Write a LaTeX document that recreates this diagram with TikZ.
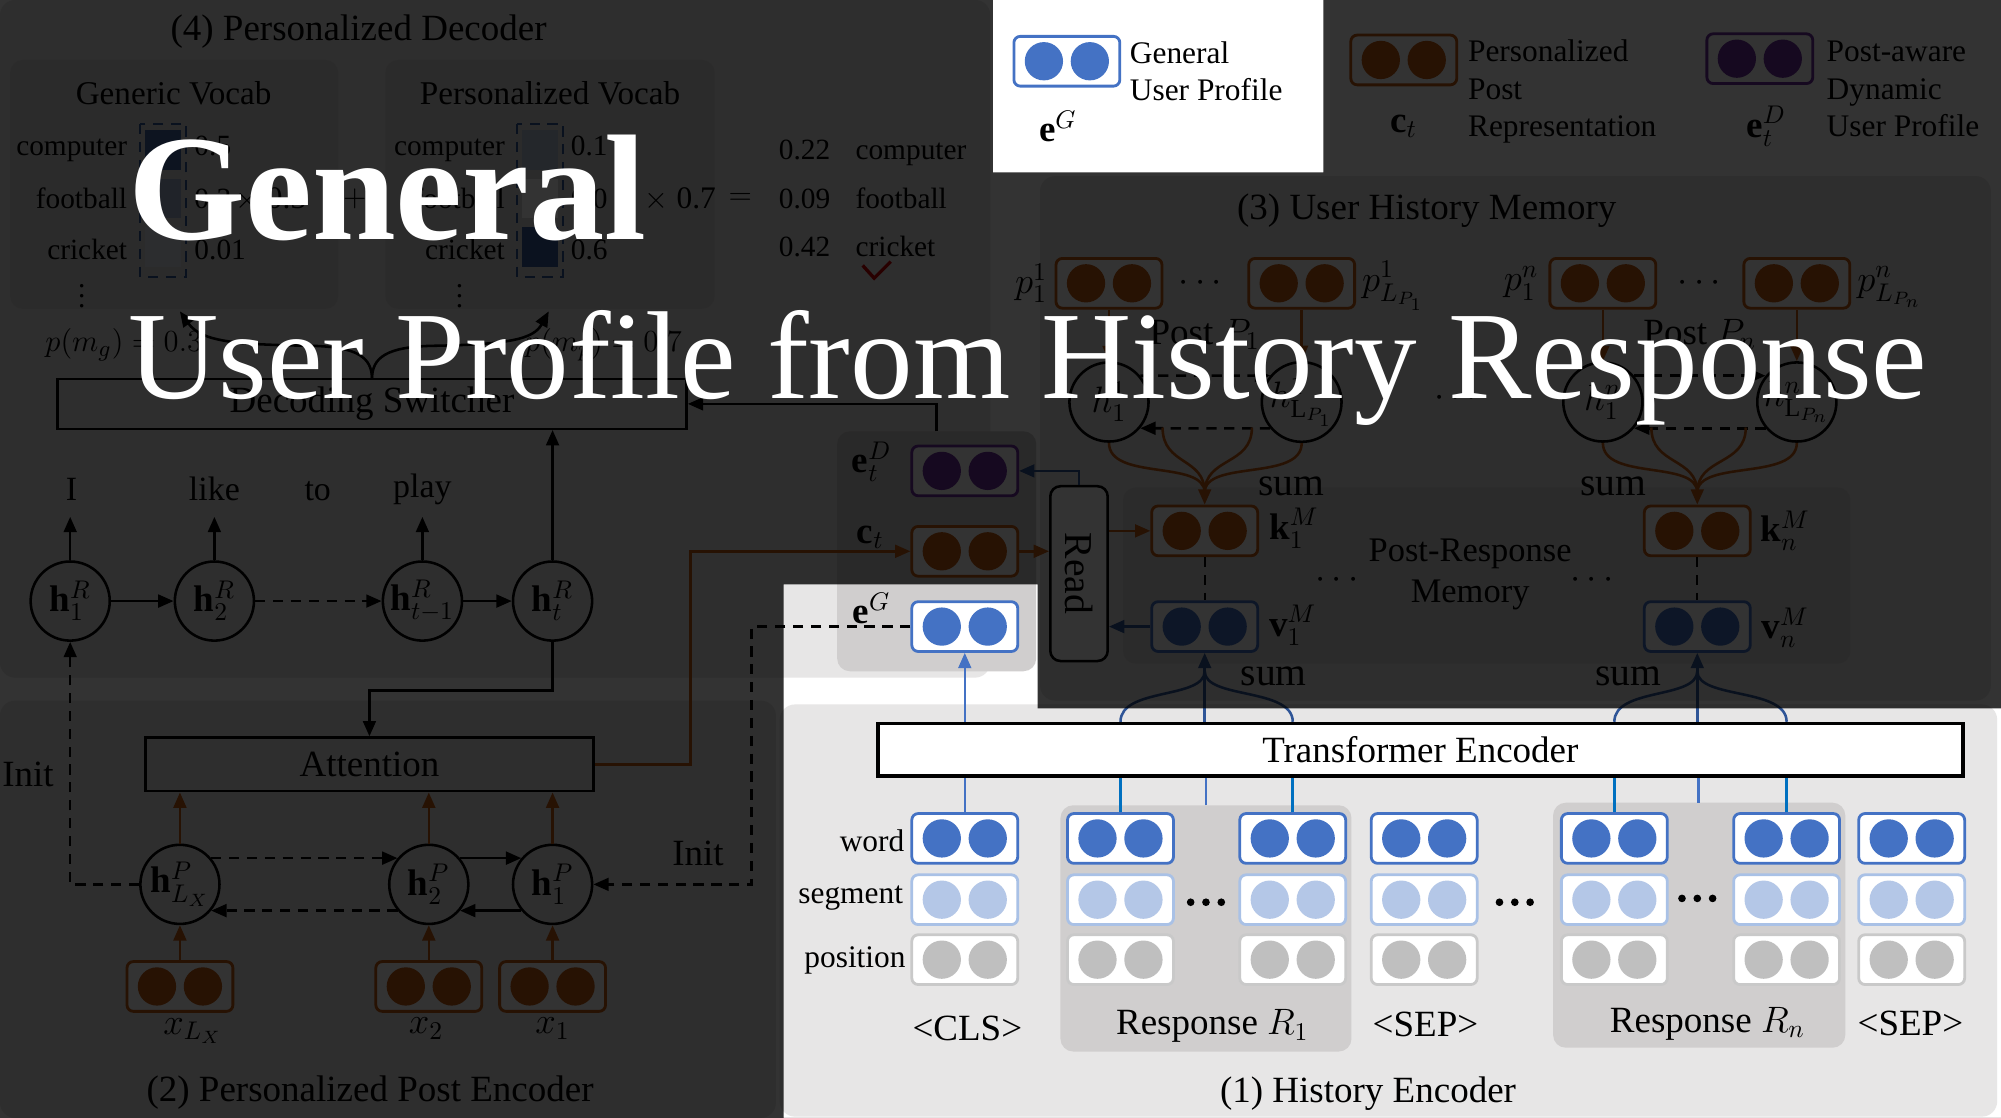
\documentclass[tikz,border=0pt]{standalone}
\usepackage{amsmath}
\usepackage{fontspec}
\setmainfont{Liberation Serif}
\usetikzlibrary{arrows.meta}
\definecolor{cblue}{HTML}{4472C4}
\definecolor{cbluex}{HTML}{0070C0}
\definecolor{cnavy}{HTML}{2F5597}
\definecolor{clblue}{HTML}{B4C7E7}
\definecolor{clbluebd}{HTML}{A9C1E6}
\definecolor{cgray}{HTML}{BFBFBF}
\definecolor{cgraybd}{HTML}{C9C9C9}
\definecolor{cbrown}{HTML}{C55A11}
\definecolor{cpurple}{HTML}{7030A0}
\definecolor{bgA}{HTML}{E7E6E6}
\definecolor{bgB}{HTML}{D0CECE}
\definecolor{bgC}{HTML}{D9D9D9}
\newcommand\szA{\fontsize{14.5}{17}\selectfont}
\newcommand\szB{\fontsize{11.5}{13}\selectfont}
\newcommand\szC{\fontsize{12.3}{15}\selectfont}
\newcommand\szD{\fontsize{13}{15}\selectfont}
\newcommand\szE{\fontsize{15.5}{18}\selectfont}
\newcommand\szF{\fontsize{13.3}{16}\selectfont}
\newcommand\szG{\fontsize{13.5}{16}\selectfont}
\newcommand\embx[5]{%
  \node[emb,draw=#4] (#1) at (#2,#3) {};
  \fill[#5] ([xshift=-9pt]#1.center) circle[radius=15];
  \fill[#5] ([xshift=9pt]#1.center) circle[radius=15];}
\begin{document}
\begin{tikzpicture}[x=0.5pt,y=-0.5pt,
  txt/.style={inner sep=0pt},
  ln/.style={line width=1pt},
  arr/.style={line width=1pt,-{Triangle[length=6pt,width=5pt]}},
  barr/.style={line width=1pt,draw=cbrown,-{Triangle[length=6pt,width=5pt]}},
  narr/.style={line width=1pt,draw=cnavy,-{Triangle[length=6pt,width=5pt]}},
  dsh/.style={dash pattern=on 4pt off 3pt},
  emb/.style={rounded corners=2.5pt,fill=white,minimum width=41.5pt,minimum height=19.5pt,inner sep=0pt,line width=1.1pt},
  rnn/.style={circle,draw,line width=1pt,minimum size=31pt,inner sep=0pt,font=\szA},
  boxn/.style={draw,line width=1pt,inner sep=0pt},
]
\useasboundingbox (0,0) rectangle (1568,876);
\fill[white] (0,0) rectangle (1568,876);
% ---------- backgrounds
\fill[bgA,rounded corners=6pt] (0,0) rectangle (776,531);
\fill[bgA,rounded corners=6pt] (0,549) rectangle (608,876);
\fill[bgA,rounded corners=6pt] (611,552) rectangle (1565,875);
\fill[bgA,rounded corners=6pt] (815,138) rectangle (1560,549);
\fill[bgC,rounded corners=5pt] (8,47) rectangle (265,242);
\fill[bgC,rounded corners=5pt] (302,47) rectangle (560,242);
\fill[bgB,rounded corners=5pt] (656,338) rectangle (812,526);
\fill[bgC,rounded corners=5pt] (880,382) rectangle (1450,520);
\fill[bgB,rounded corners=5pt] (831,631) rectangle (1059,824);
\fill[bgB,rounded corners=5pt] (1217,629) rectangle (1446,821);

% ---------- legend
\embx{lgG}{836}{48}{cblue}{cblue}
\node[txt,font=\szC,anchor=base west] at (885,50) {General};
\node[txt,font=\szC,anchor=base west] at (885,79) {User Profile};
\node[txt,font=\szA] at (829,99) {$\mathbf{e}^{G}$};
\embx{lgC}{1100}{47}{cbrown}{cbrown}
\node[txt,font=\szC,anchor=base west] at (1150,48) {Personalized};
\node[txt,font=\szC,anchor=base west] at (1150,78) {Post};
\node[txt,font=\szC,anchor=base west] at (1150,107) {Representation};
\node[txt,font=\szA] at (1100,99) {$\mathbf{c}_t$};
\embx{lgD}{1379}{46}{cpurple}{cpurple}
\node[txt,font=\szC,anchor=base west] at (1431,48) {Post-aware};
\node[txt,font=\szC,anchor=base west] at (1431,78) {Dynamic};
\node[txt,font=\szC,anchor=base west] at (1431,107) {User Profile};
\node[txt,font=\szA] at (1384,99) {$\mathbf{e}^{D}_t$};

% ---------- (4) decoder
\node[txt,font=\szA] (t4) at (281,25) {(4) Personalized Decoder};
\node[txt,font=\szD] at (136,73) {Generic Vocab};
\node[txt,font=\szD] at (431,73) {Personalized Vocab};
\foreach \w/\y in {computer/115,football/156,cricket/196} {
  \node[txt,font=\szB,anchor=base east] at (100,\y+7) {\w};
  \node[txt,font=\szB,anchor=base east] at (396,\y+7) {\w};
}
\node[txt,font=\szB] at (64,226) {$\vdots$};
\node[txt,font=\szB] at (360,226) {$\vdots$};
\draw[cnavy,line width=0.8pt,dsh] (110,97) rectangle (146,217);
\fill[cnavy!90!white] (114,102) rectangle (142,133);
\fill[cnavy!45!white] (114,140) rectangle (142,171);
\fill[cnavy!15!white] (114,178) rectangle (142,209);
\draw[cnavy,line width=0.8pt,dsh] (405,97) rectangle (441,217);
\fill[cnavy!35!white] (409,102) rectangle (437,133);
\fill[white] (409,140) rectangle (437,171);
\fill[cnavy!95!white] (409,178) rectangle (437,209);
\foreach \v/\y in {0.5/115,0.3/156,0.01/196}
  \node[txt,font=\szB,anchor=base west] at (152,\y+7) {\v};
\foreach \v/\y in {0.1/115,0.0/156,0.6/196}
  \node[txt,font=\szB,anchor=base west] at (447,\y+7) {\v};
\node[txt,font=\szC,anchor=base west] at (184,163) {$\times$ 0.3};
\node[txt,font=\szC] at (278,156) {$+$};
\node[txt,font=\szC,anchor=base west] at (505,163) {$\times$ 0.7};
\node[txt,font=\szC] at (580,156) {$=$};
\foreach \v/\w/\y in {0.22/computer/118,0.09/football/156,0.42/cricket/194} {
  \node[txt,font=\szB,anchor=base west] at (610,\y+7) {\v};
  \node[txt,font=\szB,anchor=base west] at (670,\y+7) {\w};
}
\draw[red!80!black,line width=1.3pt] (676,208) -- (685,218) -- (698,205);
\node[txt,font=\szC] at (97,270) {$p(m_g) = 0.3$};
\node[txt,font=\szC] at (473,270) {$p(m_p) = 0.7$};
\node[boxn,minimum width=246.5pt,minimum height=19.5pt,font=\szA] (sw) at (291.5,316.5) {Decoding Switcher};
\coordinate (cusp) at (291.5,297);
\draw[arr] (cusp) .. controls (291.5,280) and (280,272) .. (245,271) .. controls (185,270) and (158,268) .. (141,244);
\draw[arr] (cusp) .. controls (291.5,280) and (303,272) .. (338,271) .. controls (398,270) and (418,266) .. (430,244);
\coordinate (egtop) at (734,338);
\draw[arr] (egtop) |- (sw.east);

% decoder RNN
\node[rnn] (hR1) at (55,471) {$\mathbf{h}^{R}_{1}$};
\node[rnn] (hR2) at (168,471) {$\mathbf{h}^{R}_{2}$};
\node[rnn] (hRa) at (331,471) {$\mathbf{h}^{R}_{t-1}$};
\node[rnn] (hRt) at (433,471) {$\mathbf{h}^{R}_{t}$};
\node[txt,font=\szF,anchor=base] (wI) at (56,392) {I};
\node[txt,font=\szF,anchor=base] (wlike) at (168,392) {like};
\node[txt,font=\szF,anchor=base] (wto) at (249,392) {to};
\node[txt,font=\szF,anchor=base] (wplay) at (331,390) {play};
\draw[arr] (hR1.north) -- ++(0,-34);
\draw[arr] (hR2.north) -- ++(0,-34);
\draw[arr] (hRa.north) -- ++(0,-34);
\draw[arr] (hR1) -- (hR2);
\draw[arr,dsh] (hR2) -- (hRa);
\draw[arr] (hRa) -- (hRt);
\draw[arr] (hRt.north) -- (hRt.north |- sw.south);
\node[boxn,minimum width=175.5pt,minimum height=21pt,font=\szA] (att) at (289.5,599) {Attention};
\draw[arr] (hRt.south) -- ++(0,38) -| (att.north);

% ---------- (2) post encoder
\node[rnn] (hPL) at (141,693) {$\mathbf{h}^{P}_{L_X}$};
\node[rnn] (hP2) at (336,693) {$\mathbf{h}^{P}_{2}$};
\node[rnn] (hP1) at (433,693) {$\mathbf{h}^{P}_{1}$};
\draw[arr,dsh] (hPL.40) -- (hP2.140);
\draw[arr] (hP2.40) -- (hP1.140);
\draw[arr] (hP1.220) -- (hP2.320);
\draw[arr,dsh] (hP2.220) -- (hPL.320);
\foreach \n in {hPL,hP2,hP1} \draw[barr] (\n.north) -- (\n.north |- att.south);
\embx{xL}{141}{773}{cbrown}{cbrown}
\embx{x2}{336}{773}{cbrown}{cbrown}
\embx{x1}{433}{773}{cbrown}{cbrown}
\draw[barr] (xL.north) -- (hPL.south);
\draw[barr] (x2.north) -- (hP2.south);
\draw[barr] (x1.north) -- (hP1.south);
\node[txt,font=\szA] at (151,808) {$x_{L_X}$};
\node[txt,font=\szA] at (334,806) {$x_2$};
\node[txt,font=\szA] at (433,806) {$x_1$};
\node[txt,font=\szA] at (290,856) {(2) Personalized Post Encoder};
\draw[arr,dsh] (hPL.west) -- (hR1.south |- hPL.west) -- (hR1.south);
\node[txt,font=\szA] at (22,607) {Init};

% ---------- middle group
\embx{eD}{756}{369}{cpurple}{cpurple}
\embx{ct}{756}{432}{cbrown}{cbrown}
\embx{eG}{756}{491}{cblue}{cblue}
\node[txt,font=\szA] at (683,362) {$\mathbf{e}^{D}_{t}$};
\node[txt,font=\szA] at (682,421) {$\mathbf{c}_{t}$};
\node[txt,font=\szA] at (683,477) {$\mathbf{e}^{G}$};
\draw[barr] (att.east) -- ++(75,0) |- (ct.west);
\draw[arr,dsh] (eG.west) -- ++(-124.5,0) |- (hP1.east);
\node[txt,font=\szA] at (547,669) {Init};
\node[boxn,rounded corners=4pt,fill=white,minimum width=22.5pt,minimum height=68.5pt] (rd) at (845.5,449.5) {};
\node[txt,font=\szE,rotate=-90] at (rd.center) {Read};
\draw[barr] (ct.east) -- (ct.east -| rd.west);
\draw[narr] (rd.north) |- (eD.east);

% ---------- (3) memory
\node[txt,font=\szA] at (1118,165) {(3) User History Memory};
\embx{p11}{869}{222}{cbrown}{cbrown}
\embx{p1L}{1020}{222}{cbrown}{cbrown}
\embx{pn1}{1256}{222}{cbrown}{cbrown}
\embx{pnL}{1408}{222}{cbrown}{cbrown}
\node[txt,font=\szA] at (808,222) {$p^{1}_{1}$};
\node[txt,font=\szA,anchor=west] at (1067,224) {$p^{1}_{L_{P_1}}$};
\node[txt,font=\szA] at (1192,222) {$p^{n}_{1}$};
\node[txt,font=\szA,anchor=west] at (1455,225) {$p^{n}_{L_{P_n}}$};
\node[txt,font=\szA] at (943,222) {$\cdots$};
\node[txt,font=\szA] at (1334,222) {$\cdots$};
\node[txt,font=\szA] at (944,262) {Post $P_1$};
\node[txt,font=\szA] at (1332,262) {Post $P_n$};
\node[rnn] (m11) at (869,315) {$h^{1}_{1}$};
\node[rnn] (m1L) at (1020,315) {$h^{1}_{\mathrm{L}_{P_1}}$};
\node[rnn] (mn1) at (1256,315) {$h^{n}_{1}$};
\node[rnn] (mnL) at (1408,315) {$h^{n}_{\mathrm{L}_{P_n}}$};
\draw[barr] (p11.south) -- (m11.north);
\draw[barr] (p1L.south) -- (m1L.north);
\draw[barr] (pn1.south) -- (mn1.north);
\draw[barr] (pnL.south) -- (mnL.north);
\draw[arr,dsh] (m11.40) -- (m1L.140);
\draw[arr,dsh] (m1L.220) -- (m11.320);
\draw[arr,dsh] (mn1.40) -- (mnL.140);
\draw[arr,dsh] (mnL.220) -- (mn1.320);
\node[txt,font=\szA] at (1143,312) {$\cdots$};
\node[txt,font=\szE] at (1012,381) {sum};
\node[txt,font=\szE] at (1264,381) {sum};
\node[txt,font=\szG,align=center] at (1152,450) {Post-Response\\Memory};
\embx{k1}{944}{416}{cbrown}{cbrown}
\embx{v1}{944}{491}{cblue}{cblue}
\embx{kn}{1330}{416}{cbrown}{cbrown}
\embx{vn}{1330}{491}{cblue}{cblue}
\node[txt,font=\szA] at (1014,414) {$\mathbf{k}^{M}_{1}$};
\node[txt,font=\szA] at (1013,490) {$\mathbf{v}^{M}_{1}$};
\node[txt,font=\szA] at (1399,416) {$\mathbf{k}^{M}_{n}$};
\node[txt,font=\szA] at (1399,492) {$\mathbf{v}^{M}_{n}$};
\draw[line width=0.8pt,dsh] (k1.south) -- (v1.north);
\draw[line width=0.8pt,dsh] (kn.south) -- (vn.north);
\node[txt,font=\szA] at (1050,455) {$\cdots$};
\node[txt,font=\szA] at (1250,455) {$\cdots$};
% sum curves
\coordinate (ka) at (944,386);
\coordinate (kb) at (1330,386);
\coordinate (c1a) at (911,335);
\coordinate (c1b) at (981,335);
\coordinate (cna) at (1294,335);
\coordinate (cnb) at (1368,335);
\draw[cbrown,ln] (m11.south) .. controls +(0,30) and (944,360) .. (ka);
\draw[cbrown,ln] (m1L.south) .. controls +(0,30) and (944,360) .. (ka);
\draw[cbrown,ln] (c1a) .. controls +(0,30) and (944,358) .. (ka);
\draw[cbrown,ln] (c1b) .. controls +(0,30) and (944,358) .. (ka);
\draw[cbrown,ln] (mn1.south) .. controls +(0,30) and (1330,360) .. (kb);
\draw[cbrown,ln] (mnL.south) .. controls +(0,30) and (1330,360) .. (kb);
\draw[cbrown,ln] (cna) .. controls +(0,30) and (1330,358) .. (kb);
\draw[cbrown,ln] (cnb) .. controls +(0,30) and (1330,358) .. (kb);
\draw[barr] (ka) -- (k1.north);
\draw[barr] (kb) -- (kn.north);
\draw[barr] (rd.east |- k1.west) -- (k1.west);
\draw[narr] (v1.west) -- (v1.west -| rd.east);

% ---------- (1) history encoder
\node[boxn,fill=white,line width=1.4pt,minimum width=425pt,minimum height=20.5pt,font=\szA] (tenc) at (1113,587.5) {Transformer Encoder};
\foreach \n/\x in {c/756,a/878,b/1013,s/1116,d/1265,e/1400,f/1498} {
  \embx{w\n}{\x}{657}{cblue}{cblue}
  \embx{g\n}{\x}{705}{clbluebd}{clblue}
  \embx{q\n}{\x}{752}{cgraybd}{cgray}
}
\draw[cblue,line width=1pt] (wc.north) -- (wc.north |- tenc.south);
\foreach \n in {a,b,d,e} \draw[cbluex,line width=1.2pt] (w\n.north) -- (w\n.north |- tenc.south);
\coordinate (r1top) at (945,631);
\coordinate (rntop) at (1331,629);
\draw[cblue,line width=1pt] (r1top) -- (r1top |- tenc.south);
\draw[cblue,line width=1pt] (rntop) -- (rntop |- tenc.south);
\draw[cblue,line width=1pt,-{Triangle[length=6pt,width=5pt]}] (eG.south |- tenc.north) -- (eG.south);
% arcs to v
\draw[cnavy,line width=1pt] (tenc.north -| wa.north) .. controls +(0,-27) and (944,548) .. (944,526);
\draw[cnavy,line width=1pt] (tenc.north -| wb.north) .. controls +(0,-27) and (944,548) .. (944,526);
\draw[cnavy,line width=1pt,-{Triangle[length=6pt,width=5pt]}] (v1.south |- tenc.north) -- (v1.south);
\draw[cnavy,line width=1pt] (tenc.north -| wd.north) .. controls +(0,-27) and (1330,548) .. (1330,526);
\draw[cnavy,line width=1pt] (tenc.north -| we.north) .. controls +(0,-27) and (1330,548) .. (1330,526);
\draw[cnavy,line width=1pt,-{Triangle[length=6pt,width=5pt]}] (vn.south |- tenc.north) -- (vn.south);
\node[txt,font=\szE] at (998,530) {sum};
\node[txt,font=\szE] at (1276,530) {sum};
\node[txt,font=\szC,anchor=east] at (709,659) {word};
\node[txt,font=\szC,anchor=east] at (708,704) {segment};
\node[txt,font=\szC,anchor=east] at (710,753) {position};
\node[txt,font=\szA] at (758,806) {<CLS>};
\node[txt,font=\szA] at (950,804) {Response $R_1$};
\node[txt,font=\szA] at (1117,803) {<SEP>};
\node[txt,font=\szA] at (1338,802) {Response $R_n$};
\node[txt,font=\szA] at (1497,802) {<SEP>};
\node[txt,font=\szA] at (1072,857) {(1) History Encoder};
\foreach \x/\y in {945/707,1187/707,1330/704} {
  \fill (\x-12,\y) circle[radius=3];
  \fill (\x,\y) circle[radius=3];
  \fill (\x+12,\y) circle[radius=3];
}

% ---------- dark overlay
\fill[black,opacity=0.8,even odd rule] (0,0) rectangle (1568,876)
  (778,0) rectangle (1037,135)
  (614,458) -- (813,458) -- (813,555) -- (1568,555) -- (1568,876) -- (614,876) -- cycle;

% ---------- title
\node[txt,white,font=\fontsize{59}{62}\selectfont\bfseries,anchor=base west] (ttl1) at (100,188) {General};
\node[txt,white,font=\fontsize{49}{52}\selectfont,anchor=base west] (ttl2) at (100,312) {User Profile from History Response};
\end{tikzpicture}
\end{document}
